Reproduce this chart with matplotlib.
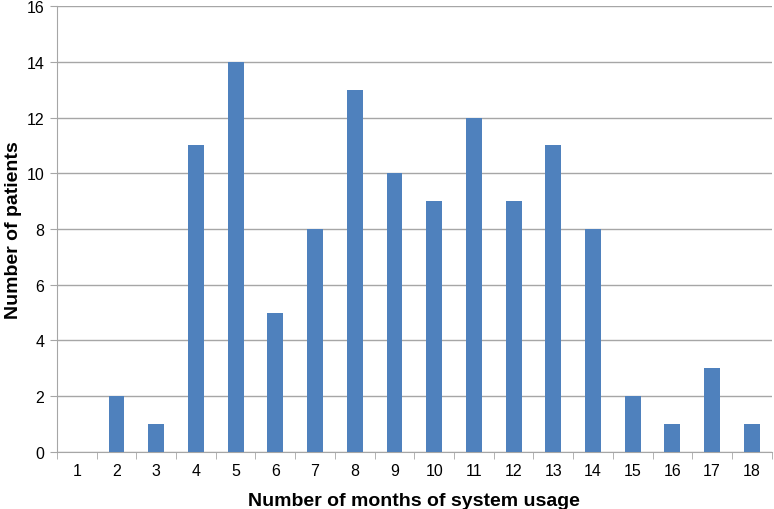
import matplotlib
matplotlib.use("Agg")
import matplotlib.pyplot as plt
import numpy as np

months = list(range(1, 19))
patients = [0, 2, 1, 11, 14, 5, 8, 13, 10, 9, 12, 9, 11, 8, 2, 1, 3, 1]
y_ticks = [0, 2, 4, 6, 8, 10, 12, 14, 16]

_BAR = "#4f81bd"
_GRID = "#a6a6a6"

plt.rcParams["font.family"] = ["Liberation Sans", "DejaVu Sans"]

fig = plt.figure(figsize=(7.74, 5.10), dpi=100)
ax = fig.add_axes([0.0736, 0.112, 0.9234, 0.874])

x = np.arange(len(months))
ax.bar(x, patients, width=0.4, color=_BAR, zorder=3)

ax.set_xlim(-0.5, len(months) - 0.5)
ax.set_ylim(0, 16)
ax.set_yticks(y_ticks)
ax.yaxis.grid(True, color=_GRID, linewidth=1, zorder=0)

# category labels at centres, tick marks between categories
ax.set_xticks(x)
ax.set_xticklabels([str(m) for m in months])
ax.set_xticks(np.arange(-0.5, len(months)), minor=True)
ax.tick_params(axis="x", which="major", length=0, labelsize=11.5, pad=8)
ax.tick_params(axis="x", which="minor", length=5, color=_GRID, direction="out")
ax.tick_params(axis="y", length=5, color=_GRID, labelsize=11.5, pad=4)

for side in ("top", "right"):
    ax.spines[side].set_visible(False)
for side in ("left", "bottom"):
    ax.spines[side].set_color(_GRID)

ax.set_xlabel("Number of months of system usage", fontsize=14, fontweight="bold", labelpad=10)
ax.set_ylabel("Number of patients", fontsize=14, fontweight="bold", labelpad=3)

fig.savefig("out.png", dpi=100)
